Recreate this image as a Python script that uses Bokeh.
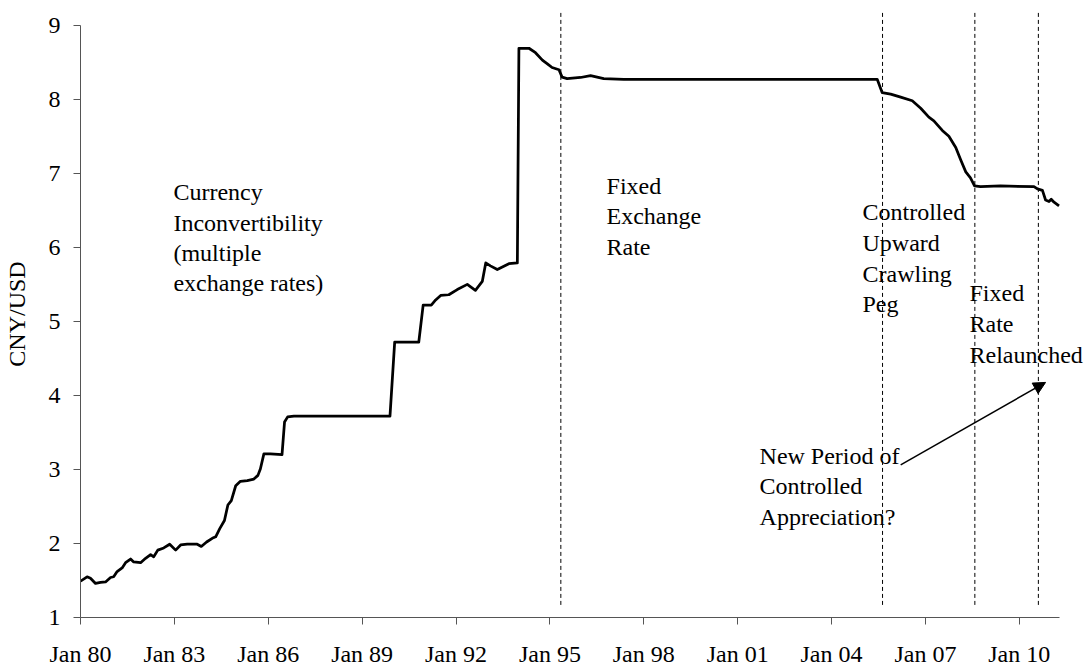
from bokeh.plotting import figure
from bokeh.models import Range1d, FixedTicker, ColumnDataSource, Arrow, NormalHead
from bokeh.core.properties import value
from bokeh.embed import file_html
from bokeh.resources import INLINE

# ---- data ----
years = [
    1980.00, 1980.21, 1980.32, 1980.48, 1980.64, 1980.80, 1980.96,
    1981.06, 1981.17, 1981.33, 1981.44, 1981.60, 1981.70, 1981.92,
    1982.08, 1982.24, 1982.34, 1982.47, 1982.66, 1982.85,
    1983.04, 1983.20, 1983.41, 1983.73, 1983.86,
    1984.03, 1984.21, 1984.32, 1984.45, 1984.60, 1984.71, 1984.82, 1984.96,
    1985.11, 1985.33, 1985.54, 1985.67, 1985.75, 1985.86,
    1986.07, 1986.44, 1986.52, 1986.62, 1986.82,
    1989.89, 1990.04, 1990.81, 1990.95,
    1991.21, 1991.35, 1991.51, 1991.77,
    1992.04, 1992.36, 1992.62, 1992.84, 1992.95,
    1993.10, 1993.32, 1993.69, 1993.96,
    1994.01, 1994.33, 1994.54, 1994.76, 1994.92,
    1995.07, 1995.29, 1995.39, 1995.55, 1995.98,
    1996.30, 1996.72, 1997.36, 1998.00,
    2005.46, 2005.62, 2005.89,
    2006.21, 2006.58, 2006.85,
    2007.11, 2007.27, 2007.54, 2007.75, 2007.97,
    2008.13, 2008.29, 2008.44, 2008.57, 2008.76,
    2009.40,
    2010.47, 2010.58, 2010.74, 2010.84, 2010.95,
    2011.02, 2011.11, 2011.27,
]
cny_usd = [
    1.49, 1.55, 1.53, 1.46, 1.475, 1.48, 1.54,
    1.55, 1.62, 1.67, 1.74, 1.79, 1.75, 1.74,
    1.80, 1.85, 1.82, 1.91, 1.94, 1.99,
    1.91, 1.98, 1.99, 1.99, 1.96,
    2.02, 2.07, 2.09, 2.20, 2.31, 2.52, 2.58, 2.78,
    2.84, 2.85, 2.87, 2.92, 3.01, 3.21,
    3.21, 3.20, 3.64, 3.71, 3.72,
    3.72, 4.72, 4.72, 5.22,
    5.22, 5.29, 5.35, 5.36,
    5.43, 5.50, 5.42, 5.54, 5.79,
    5.75, 5.70, 5.78, 5.79,
    8.69, 8.69, 8.63, 8.53, 8.48,
    8.43, 8.40, 8.30, 8.28, 8.295,
    8.32, 8.28, 8.27, 8.27,
    8.27, 8.09, 8.07,
    8.03, 7.98, 7.88,
    7.76, 7.71, 7.58, 7.50, 7.35,
    7.18, 7.02, 6.94, 6.83, 6.82,
    6.83,
    6.82, 6.79, 6.77, 6.64, 6.62,
    6.65, 6.61, 6.56,
]

tick_years = [1980, 1983, 1986, 1989, 1992, 1995, 1998, 2001, 2004, 2007, 2010]
tick_labels = ["Jan 80", "Jan 83", "Jan 86", "Jan 89", "Jan 92", "Jan 95",
               "Jan 98", "Jan 01", "Jan 04", "Jan 07", "Jan 10"]
y_ticks = [1, 2, 3, 4, 5, 6, 7, 8, 9]

# regime breaks (dashed vertical lines)
regime_breaks = [1995.35, 2005.63, 2008.58, 2010.61]

# annotation lines: text, x (year), y (baseline value)
note_text = ["Currency", "Inconvertibility", "(multiple", "exchange rates)",
             "Fixed", "Exchange", "Rate",
             "Controlled", "Upward", "Crawling", "Peg",
             "Fixed", "Rate", "Relaunched",
             "New Period of", "Controlled", "Appreciation?"]
note_x = [1982.97] * 4 + [1996.81] * 3 + [2004.99] * 4 + [2008.41] * 3 + [2001.70] * 3
note_y = [6.744, 6.334, 5.923, 5.513,
          6.832, 6.419, 6.007,
          6.472, 6.061, 5.647, 5.234,
          5.388, 4.965, 4.548,
          3.188, 2.777, 2.363]

arrow_start = (2006.21, 3.063)
arrow_end = (2010.84, 4.176)

FONT = "Liberation Serif"

src = ColumnDataSource(dict(year=years, rate=cny_usd))
notes = ColumnDataSource(dict(x=note_x, y=note_y, text=note_text))
breaks = ColumnDataSource(dict(x=regime_breaks,
                               y0=[1.17] * len(regime_breaks),
                               y1=[9.2] * len(regime_breaks)))

p = figure(width=1087, height=669, output_backend="svg", toolbar_location=None,
           x_range=Range1d(1980, 2012.18), y_range=Range1d(1, 9.2),
           min_border_left=80, min_border_right=0, min_border_top=10,
           min_border_bottom=50)
p.outline_line_color = None
p.background_fill_color = "white"
p.border_fill_color = "white"
p.xgrid.visible = False
p.ygrid.visible = False

for ax in (p.xaxis, p.yaxis):
    ax.axis_line_color = "#555555"
    ax.axis_line_width = 1
    ax.major_tick_line_color = "#555555"
    ax.major_tick_out = 7
    ax.major_tick_in = 0
    ax.minor_tick_line_color = None
    ax.major_label_text_font = FONT
    ax.major_label_text_font_size = "24px"
    ax.major_label_text_color = "black"

p.xaxis.ticker = FixedTicker(ticks=tick_years)
p.xaxis.major_label_overrides = {t: l for t, l in zip(tick_years, tick_labels)}
p.xaxis.bounds = (1980, 2011.27)
p.xaxis.major_label_standoff = 16

p.yaxis.ticker = FixedTicker(ticks=y_ticks)
p.yaxis.bounds = (1, 9)
p.yaxis.major_label_standoff = 13
p.yaxis.axis_label = "CNY/USD"
p.yaxis.axis_label_text_font = FONT
p.yaxis.axis_label_text_font_size = "24px"
p.yaxis.axis_label_text_font_style = "normal"
p.yaxis.axis_label_text_color = "black"
p.yaxis.axis_label_standoff = 16

p.segment(x0="x", y0="y0", x1="x", y1="y1", source=breaks,
          line_color="black", line_width=1, line_dash="4 3")

p.line(x="year", y="rate", source=src, line_color="black", line_width=2.75,
       line_join="round")

p.text(x="x", y="y", text="text", source=notes, text_font=value(FONT),
       text_font_size="24px", text_color="black", text_align="left",
       text_baseline="alphabetic")

p.add_layout(Arrow(end=NormalHead(size=12, fill_color="black", line_color="black"),
                   x_start=arrow_start[0], y_start=arrow_start[1],
                   x_end=arrow_end[0], y_end=arrow_end[1],
                   line_color="black", line_width=1.5))

open("out.html", "w").write(file_html(p, INLINE))
